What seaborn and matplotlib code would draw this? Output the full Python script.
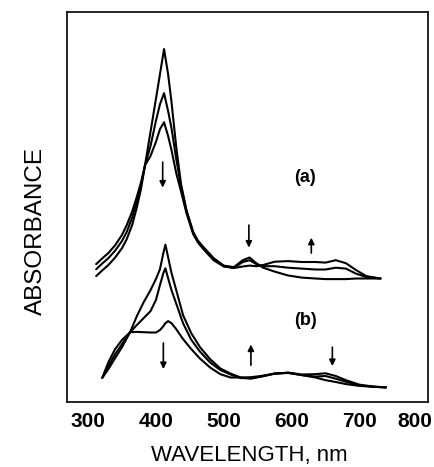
# Absorption spectra (a) and (b), three traces each

import pandas as pd
import matplotlib.pyplot as plt
import seaborn as sns
from matplotlib.transforms import ScaledTranslation

# Spectrum (a): wavelengths in nm and the three traces
wl_a = [312, 320, 330, 340, 350, 357, 365, 372, 378, 384, 392, 400, 406, 412, 418,
        423, 430, 437, 445, 455, 462, 470, 485, 500, 515, 528, 538, 548, 558, 575,
        595, 615, 635, 650, 665, 680, 695, 710, 731]
a1 = [0.420, 0.437, 0.457, 0.482, 0.513, 0.543, 0.590, 0.650, 0.710, 0.790, 0.900,
      1.010, 1.093, 1.177, 1.093, 1.000, 0.850, 0.727, 0.640, 0.567, 0.538, 0.517,
      0.480, 0.455, 0.450, 0.473, 0.482, 0.463, 0.448, 0.435, 0.422, 0.415, 0.412,
      0.410, 0.410, 0.410, 0.412, 0.412, 0.412]
a2 = [0.443, 0.460, 0.480, 0.505, 0.537, 0.567, 0.615, 0.670, 0.722, 0.790, 0.853,
      0.937, 0.993, 1.030, 0.970, 0.913, 0.810, 0.720, 0.637, 0.563, 0.535, 0.513,
      0.477, 0.453, 0.448, 0.467, 0.473, 0.460, 0.453, 0.453, 0.448, 0.445, 0.442,
      0.442, 0.448, 0.445, 0.428, 0.417, 0.412]
a3 = [0.460, 0.477, 0.497, 0.523, 0.557, 0.590, 0.635, 0.685, 0.732, 0.790, 0.820,
      0.867, 0.910, 0.933, 0.887, 0.840, 0.763, 0.703, 0.630, 0.560, 0.532, 0.510,
      0.473, 0.452, 0.447, 0.452, 0.455, 0.453, 0.457, 0.468, 0.470, 0.467, 0.467,
      0.465, 0.473, 0.463, 0.440, 0.420, 0.412]

# Spectrum (b)
wl_b = [321, 330, 340, 350, 362, 372, 382, 392, 400, 406, 411, 414, 418, 423, 430,
        440, 452, 465, 480, 495, 510, 525, 540, 555, 575, 595, 615, 635, 650, 665,
        680, 700, 720, 739]
b1 = [0.081, 0.110, 0.147, 0.183, 0.233, 0.287, 0.333, 0.373, 0.410, 0.443, 0.497,
      0.525, 0.483, 0.430, 0.373, 0.290, 0.230, 0.183, 0.143, 0.112, 0.095, 0.082,
      0.078, 0.085, 0.095, 0.098, 0.092, 0.093, 0.096, 0.087, 0.073, 0.058, 0.052,
      0.049]
b2 = [0.081, 0.120, 0.160, 0.193, 0.233, 0.257, 0.280, 0.303, 0.340, 0.390, 0.430,
      0.446, 0.413, 0.373, 0.328, 0.263, 0.208, 0.168, 0.132, 0.107, 0.092, 0.080,
      0.080, 0.085, 0.095, 0.097, 0.090, 0.085, 0.087, 0.078, 0.068, 0.056, 0.051,
      0.049]
b3 = [0.081, 0.133, 0.177, 0.207, 0.233, 0.234, 0.233, 0.232, 0.232, 0.240, 0.253,
      0.263, 0.270, 0.263, 0.243, 0.210, 0.177, 0.145, 0.115, 0.093, 0.082, 0.082,
      0.083, 0.087, 0.095, 0.098, 0.090, 0.082, 0.073, 0.067, 0.060, 0.054, 0.051,
      0.049]

# arrows: (wavelength, tail, head)
arrows = [(410, 0.80, 0.715), (537, 0.59, 0.515), (629, 0.497, 0.548),
          (411, 0.197, 0.110), (540, 0.123, 0.192), (660, 0.183, 0.120)]
panel_labels = [("(a)", 620, 0.75), ("(b)", 620, 0.273)]
xticks = [300, 400, 500, 600, 700, 800]

traces = []
for name, wl, vals in [("a1", wl_a, a1), ("a2", wl_a, a2), ("a3", wl_a, a3),
                       ("b1", wl_b, b1), ("b2", wl_b, b2), ("b3", wl_b, b3)]:
    traces.append(pd.DataFrame({"wavelength": wl, "absorbance": vals, "trace": name}))
df = pd.concat(traces, ignore_index=True)

sns.set_style("white")
plt.rcParams["font.family"] = ["Liberation Sans", "DejaVu Sans"]
plt.rcParams["text.color"] = "black"
plt.rcParams["axes.labelcolor"] = "black"
plt.rcParams["xtick.color"] = "black"

fig = plt.figure(figsize=(4.35, 4.67), dpi=100)
ax = fig.add_axes([0.154, 0.139, 0.830, 0.835])

sns.lineplot(data=df, x="wavelength", y="absorbance", units="trace",
             estimator=None, sort=False, color="black", lw=1.5, ax=ax)

for x, y0, y1 in arrows:
    ax.annotate("", xy=(x, y1), xytext=(x, y0),
                arrowprops=dict(arrowstyle="-|>", color="black", lw=1.2,
                                mutation_scale=9, shrinkA=0, shrinkB=0))
for txt, x, y in panel_labels:
    ax.text(x, y, txt, fontsize=13, fontweight="bold", ha="center", va="center")

ax.set_xlim(269, 801)
ax.set_ylim(0, 1.3)
ax.set_xticks(xticks)
ax.set_yticks([])
ax.tick_params(axis="x", direction="in", length=7, width=1.2, pad=7, labelsize=15)
for lbl in ax.get_xticklabels():
    lbl.set_fontweight("bold")
last = ax.get_xticklabels()[-1]
last.set_transform(last.get_transform() + ScaledTranslation(-9 / 72, 0, fig.dpi_scale_trans))

for sp in ax.spines.values():
    sp.set_color("black")
    sp.set_linewidth(1.2)

ax.set_xlabel("WAVELENGTH, nm", fontsize=16, va="center")
ax.xaxis.set_label_coords(0.505, -0.136)
ax.set_ylabel("ABSORBANCE", fontsize=17.5, va="center")
ax.yaxis.set_label_coords(-0.086, 0.44)

plt.savefig("out.png", dpi=100)
